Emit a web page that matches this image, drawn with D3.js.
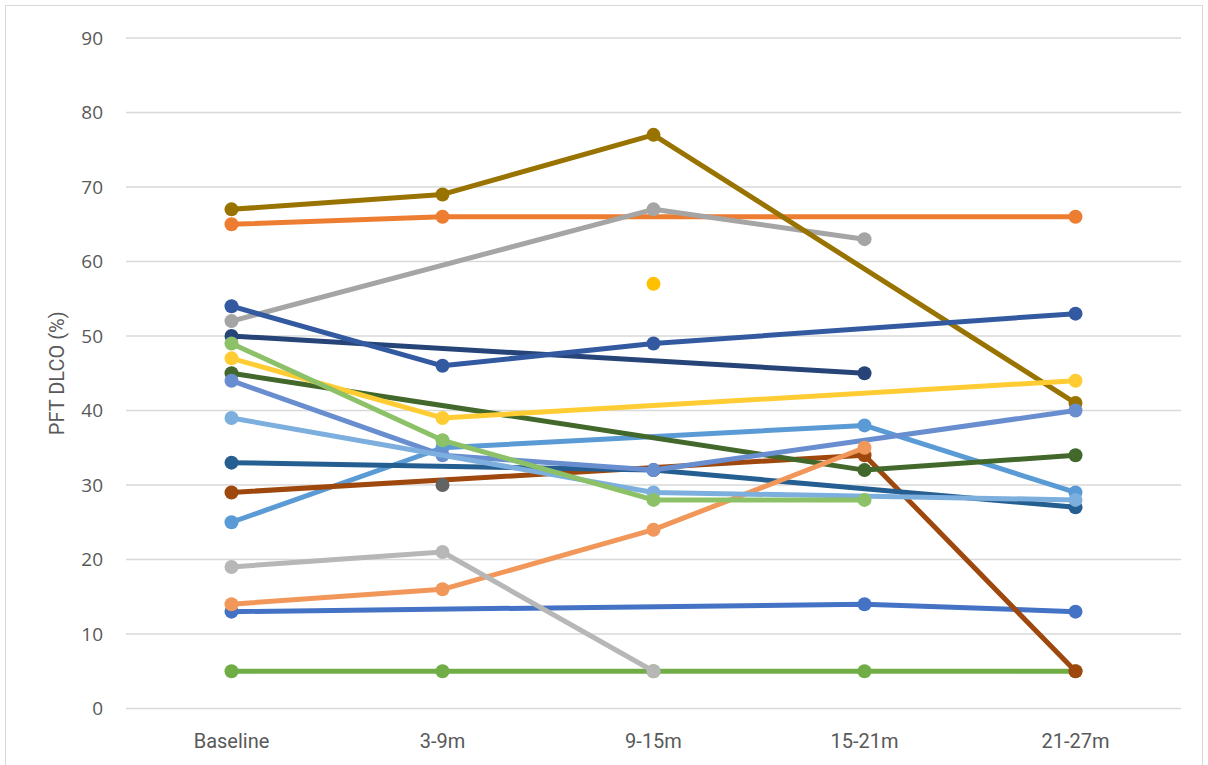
<!DOCTYPE html>
<html>
<head>
<meta charset="utf-8">
<script src="https://cdn.jsdelivr.net/npm/d3@7"></script>
<style>
  html, body { margin: 0; padding: 0; background: #fff; }
  svg { display: block; }
</style>
</head>
<body>
<svg id="chart" width="1208" height="765"></svg>
<script>
// Visit time points
const categories = ["Baseline", "3-9m", "9-15m", "15-21m", "21-27m"];
const yTicks = [0, 10, 20, 30, 40, 50, 60, 70, 80, 90];

// DLCO per patient; null = no measurement at that visit
const p01 = [13, null, null, 14, 13];
const p02 = [65, 66, null, null, 66];
const p03 = [52, null, 67, 63, null];
const p04 = [null, null, 57, null, null];
const p05 = [25, 35, null, 38, 29];
const p06 = [5, 5, 5, 5, 5];
const p07 = [50, null, null, 45, null];
const p08 = [29, null, null, 34, 5];
const p09 = [null, 30, null, null, null];
const p10 = [67, 69, 77, null, 41];
const p11 = [33, null, 32, null, 27];
const p12 = [45, null, null, 32, 34];
const p13 = [44, 34, 32, null, 40];
const p14 = [14, 16, 24, 35, null];
const p15 = [19, 21, 5, null, null];
const p16 = [47, 39, null, null, 44];
const p17 = [39, null, 29, null, 28];
const p18 = [49, 36, 28, 28, null];
const p19 = [54, 46, 49, null, 53];

const seriesValues = [p01, p02, p03, p04, p05, p06, p07, p08, p09, p10,
                      p11, p12, p13, p14, p15, p16, p17, p18, p19];
const seriesColors = ["#4472C4", "#ED7D31", "#A5A5A5", "#FFC000", "#5B9BD5", "#70AD47",
                      "#264478", "#9E480E", "#636363", "#997300", "#255E91", "#43682B",
                      "#698ED0", "#F1975A", "#B7B7B7", "#FFCD33", "#7CAFDD", "#8CC168",
                      "#335AA1"];

const svg = d3.select("#chart");

// Outer chart frame
svg.append("rect")
  .attr("x", 5.5).attr("y", 5.5)
  .attr("width", 1197).attr("height", 770)
  .attr("fill", "none").attr("stroke", "#D9D9D9").attr("stroke-width", 1);

const plotLeft = 126, plotRight = 1181, plotTop = 38, plotBottom = 708.5;

const x = d3.scaleBand().domain(categories).range([plotLeft, plotRight]);
const y = d3.scaleLinear().domain([0, 90]).range([plotBottom, plotTop]);

// Horizontal gridlines
svg.append("g")
  .selectAll("line")
  .data(yTicks)
  .join("line")
  .attr("x1", plotLeft).attr("x2", plotRight)
  .attr("y1", d => y(d)).attr("y2", d => y(d))
  .attr("stroke", "#D9D9D9").attr("stroke-width", 1.3);

// Y axis labels
const yAxis = d3.axisLeft(y).tickValues(yTicks).tickSize(0).tickPadding(0);
const gy = svg.append("g").attr("transform", `translate(${plotLeft - 23},0)`).call(yAxis);
gy.select(".domain").remove();
gy.selectAll("text")
  .attr("fill", "#595959")
  .style("font-family", "'Open Sans', 'DejaVu Sans', sans-serif")
  .style("font-size", "19px");

// X axis labels
const xAxis = d3.axisBottom(x).tickSize(0).tickPadding(0);
const gx = svg.append("g").attr("transform", `translate(0,${plotBottom + 25})`).call(xAxis);
gx.select(".domain").remove();
gx.selectAll("text")
  .attr("fill", "#595959")
  .style("font-family", "'Roboto', sans-serif")
  .style("font-size", "20px");

// Y axis title
svg.append("text")
  .attr("transform", `translate(64,${(plotTop + plotBottom) / 2}) rotate(-90)`)
  .attr("text-anchor", "middle")
  .attr("fill", "#595959")
  .style("font-family", "'Roboto', sans-serif")
  .style("font-size", "20px")
  .text("PFT DLCO (%)");

const cx = c => x(c) + x.bandwidth() / 2;

// Lines skip missing visits and connect the remaining measurements
const line = d3.line()
  .x(d => cx(d.cat))
  .y(d => y(d.v));

const plot = svg.append("g");
seriesValues.forEach((vals, i) => {
  const pts = vals.map((v, j) => ({ cat: categories[j], v })).filter(d => d.v !== null);
  const g = plot.append("g");
  if (pts.length > 1) {
    g.append("path")
      .attr("d", line(pts))
      .attr("fill", "none")
      .attr("stroke", seriesColors[i])
      .attr("stroke-width", 5)
      .attr("stroke-linejoin", "round")
      .attr("stroke-linecap", "round");
  }
  g.selectAll("circle")
    .data(pts)
    .join("circle")
    .attr("cx", d => cx(d.cat))
    .attr("cy", d => y(d.v))
    .attr("r", 7)
    .attr("fill", seriesColors[i]);
});
</script>
</body>
</html>
